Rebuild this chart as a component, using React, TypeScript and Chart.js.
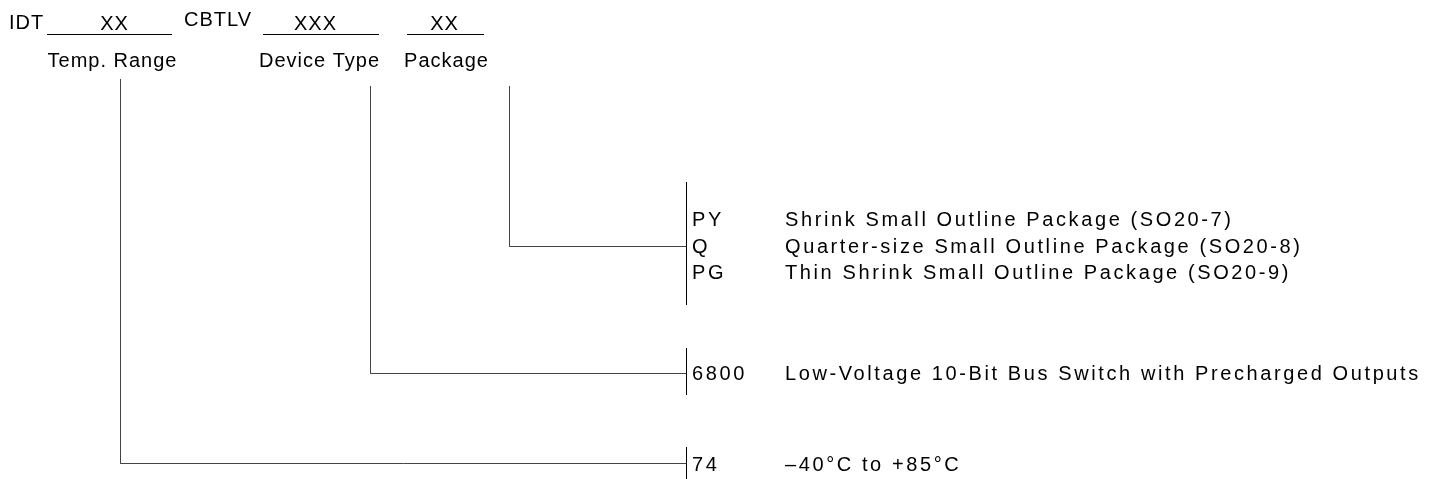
import React, { useEffect, useRef } from "react";
import { Chart, registerables } from "chart.js";

Chart.register(...registerables);

// ---- content ----
const prefixParts = ["IDT", "CBTLV"];
const placeholders = ["XX", "XXX", "XX"];
const fieldNames = ["Temp. Range", "Device Type", "Package"];
const packageCodes = ["PY", "Q", "PG"];
const packageNames = [
  "Shrink Small Outline Package (SO20-7)",
  "Quarter-size Small Outline Package (SO20-8)",
  "Thin Shrink Small Outline Package (SO20-9)",
];
const deviceCodes = ["6800"];
const deviceNames = ["Low-Voltage 10-Bit Bus Switch with Precharged Outputs"];
const tempCodes = ["74"];
const tempNames = ["\u201340\u00b0C to +85\u00b0C"];

// ---- layout (diagram units = page pixels) ----
const W = 1431;
const H = 479;
const FONT = '20px "Liberation Sans", Arial, sans-serif';
const TOP_SPACING = "1px";
const RIGHT_SPACING = "2.6px";
const prefixX = [9, 184];
const titleY = 23;
const underlineY = 34.5;
const underlines = [
  [47, 172],
  [263, 379],
  [407, 484],
];
const placeholderCenters = [114, 315, 444];
const fieldNameY = 61;
const fieldNameCenters = [112, 319, 446];
const bracketX = 686.5;
const codeX = 692;
const nameX = 785;

const groups = [
  { codes: tempCodes, names: tempNames, rows: [465], conn: 463.5, bracket: [447, 479], vx: 120.5, vTop: 79 },
  { codes: deviceCodes, names: deviceNames, rows: [374], conn: 373.5, bracket: [348, 395], vx: 370.5, vTop: 86 },
  { codes: packageCodes, names: packageNames, rows: [220, 247, 273], conn: 246.5, bracket: [182, 305], vx: 509.5, vTop: 86 },
];

function seg(x1: number, y1: number, x2: number, y2: number, color: string) {
  return {
    type: "line" as const,
    data: [
      { x: x1, y: y1 },
      { x: x2, y: y2 },
    ],
    borderColor: color,
    borderWidth: 1,
    pointRadius: 0,
    showLine: true,
    fill: false,
  };
}

export default function App() {
  const ref = useRef<HTMLCanvasElement>(null);
  useEffect(() => {
    if (!ref.current) return;
    const datasets: any[] = [];
    underlines.forEach(([a, b]) => datasets.push(seg(a, underlineY, b, underlineY, "#000")));
    groups.forEach((g) => {
      datasets.push(seg(g.vx, g.vTop, g.vx, g.conn, "#444"));
      datasets.push(seg(g.vx, g.conn, bracketX, g.conn, "#444"));
      datasets.push(seg(bracketX, g.bracket[0], bracketX, g.bracket[1], "#000"));
    });

    const textPlugin = {
      id: "diagramText",
      afterDatasetsDraw(chart: any) {
        const { ctx, scales } = chart;
        const px = (v: number) => scales.x.getPixelForValue(v);
        const py = (v: number) => scales.y.getPixelForValue(v);
        ctx.save();
        ctx.font = FONT;
        ctx.fillStyle = "#000";
        ctx.textBaseline = "middle";
        (ctx as any).letterSpacing = TOP_SPACING;
        ctx.textAlign = "left";
        ctx.fillText(prefixParts[0], px(prefixX[0]), py(titleY));
        ctx.fillText(prefixParts[1], px(prefixX[1]), py(titleY - 3));
        ctx.textAlign = "center";
        placeholders.forEach((p, i) => {
          ctx.fillText(p, px(placeholderCenters[i] + 0.5), py(titleY + 1));
        });
        fieldNames.forEach((n, i) => ctx.fillText(n, px(fieldNameCenters[i] + 0.5), py(fieldNameY)));
        ctx.textAlign = "left";
        (ctx as any).letterSpacing = RIGHT_SPACING;
        groups.forEach((g) => {
          g.codes.forEach((c, i) => {
            ctx.fillText(c, px(codeX), py(g.rows[i]));
            ctx.fillText(g.names[i], px(nameX), py(g.rows[i]));
          });
        });
        ctx.restore();
      },
    };

    const chart = new Chart(ref.current, {
      type: "scatter",
      data: { datasets },
      options: {
        animation: false,
        responsive: false,
        layout: { padding: 0 },
        plugins: { legend: { display: false }, tooltip: { enabled: false } },
        scales: {
          x: { type: "linear", min: 0, max: W, display: false },
          y: { type: "linear", min: 0, max: H, reverse: true, display: false },
        },
      },
      plugins: [textPlugin],
    });
    return () => chart.destroy();
  }, []);
  return (
    <div style={{ position: "absolute", left: 0, top: 0, width: W, height: H, background: "#fff" }}>
      <canvas ref={ref} width={W} height={H} style={{ display: "block" }} />
    </div>
  );
}
